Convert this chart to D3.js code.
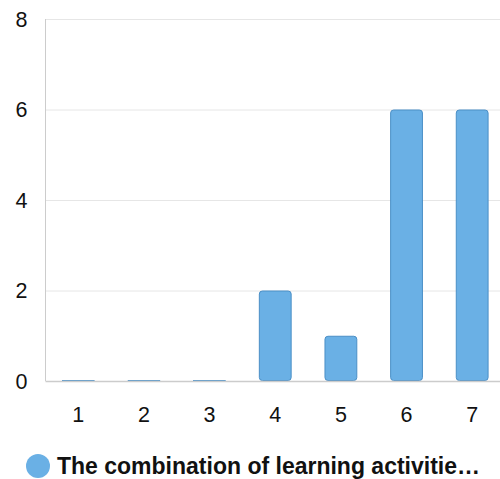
<!DOCTYPE html>
<html><head><meta charset="utf-8">
<script src="https://cdn.jsdelivr.net/npm/d3@7/dist/d3.min.js"></script>
<style>body{margin:0;background:#fff;}svg{display:block;font-family:Arial,"Liberation Sans",sans-serif;}</style>
</head><body>
<svg id="c" width="500" height="479"></svg>
<script>
const categories = ["1","2","3","4","5","6","7"];
const values = [0,0,0,2,1,6,6];
const yTicks = [0,2,4,6,8];
const seriesName = "The combination of learning activitie\u2026";

const svg = d3.select("#c");
const plotLeft = 45.5, plotTop = 19, plotBottom = 381, plotRight = 505;
const x = d3.scaleBand().domain(categories).range([plotLeft, plotRight]).paddingInner(0.5).paddingOuter(0.25);
const y = d3.scaleLinear().domain([0,8]).range([plotBottom, plotTop]);

// gridlines
svg.append("g").selectAll("line").data(yTicks.filter(d=>d>0)).join("line")
  .attr("x1", plotLeft).attr("x2", 500).attr("y1", d=>y(d)+0.5).attr("y2", d=>y(d)+0.5)
  .attr("stroke", "#e6e6e6").attr("stroke-width", 1);
// left axis line
svg.append("line").attr("x1", plotLeft).attr("x2", plotLeft).attr("y1", plotTop).attr("y2", plotBottom)
  .attr("stroke", "#cccccc");

// y labels
svg.append("g").selectAll("text").data(yTicks).join("text")
  .attr("x", 27.5).attr("y", d=>y(d)).attr("dy", "0.37em").attr("text-anchor","end")
  .attr("font-size", 21.5).attr("fill", "#111").text(d=>d);

// bars
svg.append("g").selectAll("rect").data(values).join("rect")
  .attr("x", (d,i)=>x(categories[i])+0.5)
  .attr("y", d=> d>0 ? y(d)+0.5 : y(0)-0.5)
  .attr("width", x.bandwidth()-1)
  .attr("height", d=> d>0 ? y(0)-y(d)-1 : 0.5)
  .attr("rx", d=> d>0 ? 3 : 0).attr("ry", d=> d>0 ? 3 : 0)
  .attr("fill", "#6ab0e5").attr("stroke", "#4b8fc6").attr("stroke-width", d=> d>0 ? 1 : 0.6);

// bottom axis
svg.append("line").attr("x1", plotLeft).attr("x2", 500).attr("y1", plotBottom+0.5).attr("y2", plotBottom+0.5)
  .attr("stroke", "#cccccc").attr("stroke-width", 1.5);

// x labels
svg.append("g").selectAll("text").data(categories).join("text")
  .attr("x", d=>x(d)+x.bandwidth()/2).attr("y", 422).attr("text-anchor","middle")
  .attr("font-size", 21.5).attr("fill", "#111").text(d=>d);

// legend
svg.append("circle").attr("cx", 38).attr("cy", 466).attr("r", 12).attr("fill", "#6ab0e5");
svg.append("text").attr("x", 57).attr("y", 474).attr("font-size", 23).attr("font-weight", "bold")
  .attr("fill", "#111").text(seriesName);
</script>
</body></html>
